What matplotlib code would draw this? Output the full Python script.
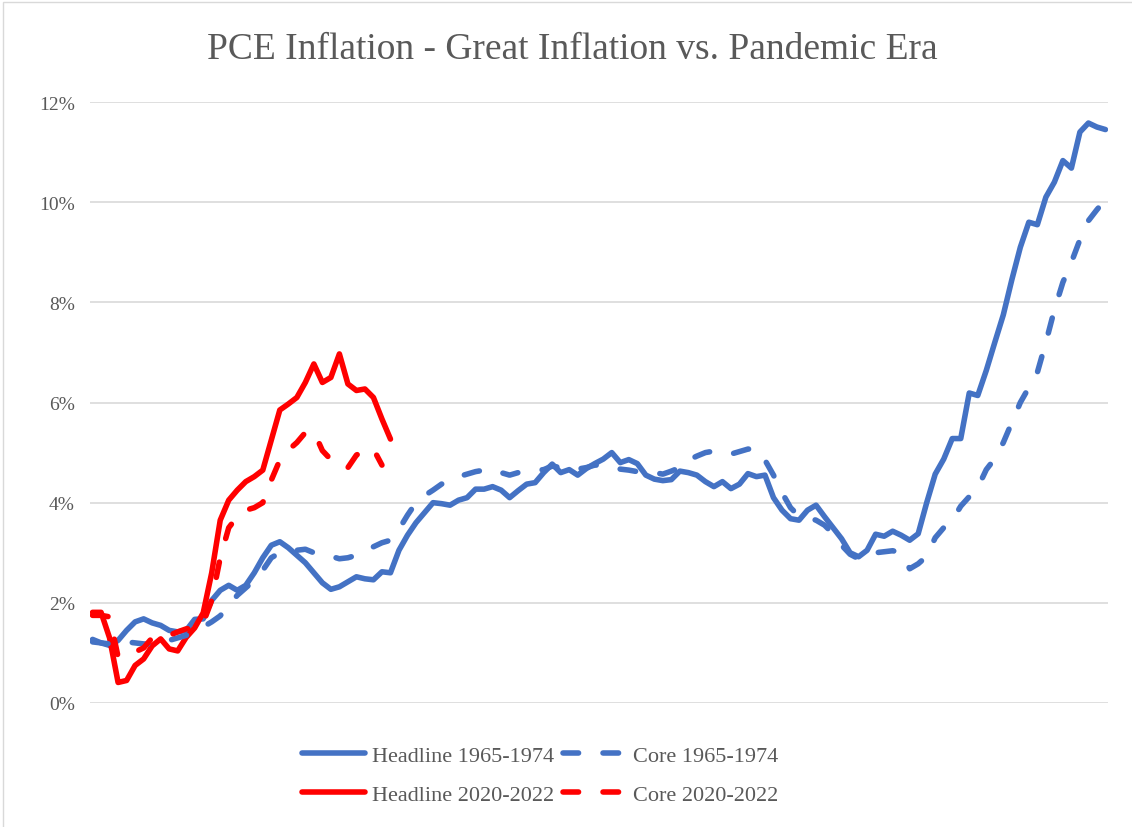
import numpy as np
import matplotlib
matplotlib.use("Agg")
import matplotlib.pyplot as plt
from matplotlib.patches import Rectangle

# Monthly YoY PCE inflation (%)
headline_6574 = [
    1.27, 1.20, 1.15, 1.25, 1.45, 1.62, 1.68, 1.60, 1.55, 1.45,
    1.42, 1.45, 1.67, 1.68, 2.05, 2.25, 2.35, 2.25, 2.35, 2.60,
    2.90, 3.15, 3.22, 3.10, 2.95, 2.80, 2.60, 2.40, 2.27, 2.32,
    2.42, 2.52, 2.48, 2.46, 2.62, 2.60, 3.05, 3.35, 3.60, 3.80,
    4.00, 3.98, 3.95, 4.05, 4.10, 4.27, 4.27, 4.32, 4.25, 4.10,
    4.24, 4.37, 4.40, 4.60, 4.77, 4.60, 4.66, 4.55, 4.68, 4.78,
    4.87, 5.00, 4.80, 4.86, 4.78, 4.55, 4.47, 4.44, 4.46, 4.63,
    4.60, 4.55, 4.42, 4.32, 4.42, 4.28, 4.37, 4.58, 4.52, 4.55,
    4.10, 3.85, 3.68, 3.65, 3.85, 3.95, 3.72, 3.50, 3.28, 3.00,
    2.92, 3.05, 3.37, 3.33, 3.43, 3.35, 3.25, 3.38, 4.00, 4.57,
    4.87, 5.28, 5.28, 6.19, 6.14, 6.64, 7.20, 7.75, 8.45, 9.10,
    9.60, 9.55, 10.10, 10.40, 10.83, 10.68, 11.40, 11.58, 11.50, 11.45,
]
core_6574 = [
    1.22, 1.20, 1.18, 1.20, 1.22, 1.20, 1.18, 1.17, 1.20, 1.25,
    1.30, 1.35, 1.45, 1.52, 1.62, 1.74, 1.95, 2.15, 2.30, 2.45,
    2.65, 2.90, 3.00, 3.04, 3.05, 3.07, 3.00, 2.95, 2.93, 2.88,
    2.90, 2.95, 3.05, 3.12, 3.20, 3.25, 3.47, 3.75, 4.00, 4.14,
    4.25, 4.37, 4.45, 4.52, 4.57, 4.62, 4.65, 4.67, 4.60, 4.55,
    4.60, 4.62, 4.64, 4.66, 4.73, 4.70, 4.67, 4.67, 4.70, 4.75,
    4.75, 4.72, 4.67, 4.65, 4.62, 4.62, 4.60, 4.57, 4.63, 4.70,
    4.85, 4.93, 5.00, 5.03, 5.00, 4.97, 5.02, 5.07, 5.07, 4.85,
    4.55, 4.20, 3.90, 3.73, 3.70, 3.65, 3.55, 3.38, 3.15, 2.97,
    2.88, 2.95, 3.00, 3.02, 3.04, 3.00, 2.68, 2.78, 2.93, 3.30,
    3.50, 3.65, 3.93, 4.12, 4.30, 4.66, 4.88, 5.20, 5.60, 6.00,
    6.30, 6.60, 7.20, 7.85, 8.40, 8.80, 9.25, 9.63, 9.85, 10.05,
]
headline_2022 = [
    1.81, 1.81, 1.30, 0.41, 0.45, 0.75, 0.88, 1.14, 1.28, 1.08,
    1.04, 1.31, 1.50, 1.80, 2.60, 3.65, 4.05, 4.25, 4.42, 4.52,
    4.65, 5.25, 5.85, 5.97, 6.10, 6.40, 6.77, 6.40, 6.50, 6.97,
    6.37, 6.24, 6.27, 6.10, 5.67, 5.27,
]
core_2022 = [
    1.75, 1.75, 1.72, 0.92, 0.98, 1.02, 1.10, 1.30, 1.35, 1.35,
    1.42, 1.48, 1.50, 1.60, 2.05, 2.90, 3.50, 3.72, 3.85, 3.90,
    4.00, 4.45, 4.85, 5.05, 5.20, 5.40, 5.42, 5.04, 4.86, 4.72,
    4.70, 4.95, 5.05, 5.07, 4.75,
]
yticks = [0, 2, 4, 6, 8, 10, 12]

blue = "#4472C4"
red = "#FF0000"
gray = "#595959"

plt.rcParams["font.family"] = ["Liberation Serif", "DejaVu Serif"]

fig = plt.figure(figsize=(11.32, 8.28), dpi=100)
ax = fig.add_axes([90 / 1132, 1 - 704 / 828, 1018 / 1132, 601 / 828])

lw = 4.0
dash = (2.8, 4.4)

ax.plot(np.arange(len(headline_6574)), headline_6574, color=blue, lw=lw,
        solid_capstyle="round", solid_joinstyle="round", label="Headline 1965-1974")
ax.plot(np.arange(len(headline_2022)), headline_2022, color=red, lw=lw,
        solid_capstyle="round", solid_joinstyle="round", label="Headline 2020-2022")
ax.plot(np.arange(len(core_6574)), core_6574, color=blue, lw=lw, dashes=dash,
        dash_capstyle="round", dash_joinstyle="round", label="Core 1965-1974")
ax.plot(np.arange(len(core_2022)), core_2022, color=red, lw=lw, dashes=dash,
        dash_capstyle="round", dash_joinstyle="round", label="Core 2020-2022")

ax.set_xlim(-0.3, 119.3)
ax.set_ylim(0, 12)
ax.set_yticks(yticks)
ax.set_yticklabels([f"{t}%" for t in yticks])
ax.set_xticks([])
ax.tick_params(axis="y", length=0, labelsize=14, labelcolor=gray, pad=11)
ax.grid(axis="y", color="#D9D9D9", lw=1.2)
ax.set_axisbelow(True)
for s in ax.spines.values():
    s.set_visible(False)

fig.text(572 / 1132, 1 - 50 / 828, "PCE Inflation - Great Inflation vs. Pandemic Era",
         ha="center", va="center", fontsize=27, color=gray)

fig.legend(loc="center", bbox_to_anchor=(540 / 1132, 1 - 776 / 828), ncol=2,
           frameon=False, fontsize=16, labelcolor=gray, handlelength=2.85,
           handletextpad=0.3, columnspacing=0.4, labelspacing=0.85)

fig.patches.append(Rectangle((3 / 1132, -0.01), 1.02, 1 - 3 / 828 + 0.01,
                             transform=fig.transFigure, fill=False,
                             edgecolor="#D9D9D9", lw=1))

fig.savefig("out.png", dpi=100)
